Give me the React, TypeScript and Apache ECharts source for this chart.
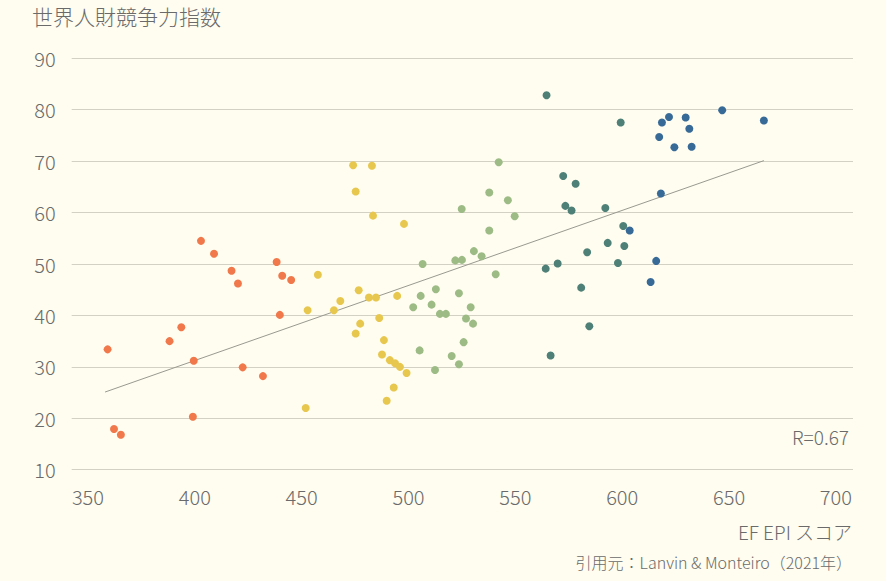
import React, { useEffect, useRef } from "react";
import * as echarts from "echarts";

// EF EPI score (x) vs World Talent Competitiveness index (y), by group
const orangeX = [402.9, 409.0, 417.2, 420.2, 438.3, 440.9, 445.1, 439.8, 359.2, 393.7, 388.2, 399.5, 422.4, 431.9, 399.1, 362.2, 365.4];
const orangeY = [54.5, 52.0, 48.7, 46.2, 50.4, 47.7, 46.9, 40.1, 33.4, 37.7, 35.0, 31.2, 29.9, 28.2, 20.3, 17.9, 16.8];

const yellowX = [474.1, 482.9, 475.3, 483.4, 497.9, 457.6, 452.8, 465.1, 468.1, 476.7, 481.5, 484.8, 494.7, 486.3, 477.4, 475.3, 488.5, 487.6, 491.3, 493.7, 496.0, 499.1, 493.1, 489.8, 451.9];
const yellowY = [69.2, 69.1, 64.1, 59.4, 57.8, 47.9, 41.0, 41.0, 42.8, 44.9, 43.5, 43.5, 43.8, 39.5, 38.4, 36.5, 35.2, 32.4, 31.3, 30.7, 30.0, 28.8, 26.0, 23.4, 22.0];

const greenX = [542.2, 537.8, 546.5, 524.9, 549.7, 537.8, 530.6, 534.2, 521.9, 525.0, 506.6, 540.8, 512.8, 505.7, 523.6, 510.8, 502.2, 529.1, 514.7, 517.5, 526.9, 530.2, 525.8, 505.2, 520.2, 523.6, 512.4];
const greenY = [69.8, 63.9, 62.4, 60.7, 59.3, 56.5, 52.5, 51.5, 50.7, 50.8, 50.0, 48.0, 45.1, 43.8, 44.3, 42.1, 41.6, 41.6, 40.3, 40.3, 39.4, 38.4, 34.8, 33.2, 32.1, 30.5, 29.4];

const tealX = [564.6, 599.3, 572.4, 578.2, 573.4, 576.3, 592.1, 600.5, 593.2, 601.0, 583.6, 598.0, 569.8, 564.2, 580.8, 584.6, 566.5];
const tealY = [82.8, 77.5, 67.1, 65.6, 61.3, 60.4, 60.9, 57.4, 54.1, 53.5, 52.3, 50.2, 50.1, 49.1, 45.4, 37.9, 32.2];

const blueX = [646.8, 666.3, 621.9, 629.7, 618.6, 631.4, 617.3, 624.4, 632.5, 618.1, 603.5, 615.9, 613.3];
const blueY = [79.9, 77.9, 78.6, 78.5, 77.5, 76.3, 74.7, 72.7, 72.8, 63.7, 56.5, 50.6, 46.5];

const trendX = [358.0, 666.3];
const trendY = [25.1, 70.1];

const xTicks = [350, 400, 450, 500, 550, 600, 650, 700];

const titleText = "世界人財競争力指数";
const xAxisName = "EF EPI スコア";
const sourceText = "引用元：Lanvin & Monteiro（2021年）";
const rText = "R=0.67";

const FONT = "'Noto Sans CJK JP', 'Noto Sans', sans-serif";
const TEXT_COLOR = "#6a6a6a";
const WEIGHT = 300;

const zip = (xs: number[], ys: number[]) => xs.map((x, i) => [x, ys[i]]);

export default function App() {
  const ref = useRef<HTMLDivElement>(null);
  useEffect(() => {
    if (!ref.current) return;
    const chart = echarts.init(ref.current, null, { renderer: "svg" });
    const groups = [
      { x: orangeX, y: orangeY, color: "#f0784a" },
      { x: yellowX, y: yellowY, color: "#e8c74f" },
      { x: greenX, y: greenY, color: "#9cbb85" },
      { x: tealX, y: tealY, color: "#4e8077" },
      { x: blueX, y: blueY, color: "#386a97" },
    ];
    chart.setOption({
      animation: false,
      backgroundColor: "#fffdf0",
      textStyle: { fontFamily: FONT },
      grid: { left: 71.7, right: 33, top: 58.3, bottom: 111.3, containLabel: false },
      xAxis: {
        type: "value",
        min: 342.4,
        max: 708,
        axisLine: { show: false },
        axisTick: { show: false },
        splitLine: { show: false },
        axisLabel: {
          customValues: xTicks,
          color: TEXT_COLOR,
          fontSize: 20,
          fontWeight: WEIGHT,
          fontFamily: FONT,
          margin: 17,
        },
      },
      yAxis: {
        type: "value",
        min: 10,
        max: 90,
        interval: 10,
        axisLine: { show: false },
        axisTick: { show: false },
        splitLine: { show: true, lineStyle: { color: "#d3d0c4", width: 1 } },
        axisLabel: { color: TEXT_COLOR, fontSize: 20, fontWeight: WEIGHT, fontFamily: FONT, margin: 16 },
      },
      series: [
        {
          type: "line",
          data: zip(trendX, trendY),
          showSymbol: false,
          symbol: "none",
          lineStyle: { color: "#999990", width: 1 },
          z: 1,
          silent: true,
        },
        ...groups.map((g) => ({
          type: "scatter",
          data: zip(g.x, g.y),
          symbolSize: 8,
          itemStyle: { color: g.color, opacity: 1 },
          z: 2,
        })),
      ],
      graphic: [
        {
          type: "text",
          left: 32,
          top: 5,
          style: { text: titleText, fill: TEXT_COLOR, fontSize: 21, fontWeight: WEIGHT, fontFamily: FONT },
        },
        {
          type: "text",
          right: 37,
          top: 427,
          style: { text: rText, fill: TEXT_COLOR, fontSize: 19, fontWeight: WEIGHT, fontFamily: FONT },
        },
        {
          type: "text",
          right: 34,
          top: 522,
          style: { text: xAxisName, fill: TEXT_COLOR, fontSize: 19, fontWeight: WEIGHT, fontFamily: FONT },
        },
        {
          type: "text",
          right: 34,
          top: 554,
          style: { text: sourceText, fill: TEXT_COLOR, fontSize: 16, fontWeight: WEIGHT, fontFamily: FONT },
        },
      ],
    });
    return () => chart.dispose();
  }, []);
  return (
    <div
      ref={ref}
      style={{ position: "fixed", left: 0, top: 0, width: 886, height: 581 }}
    />
  );
}
